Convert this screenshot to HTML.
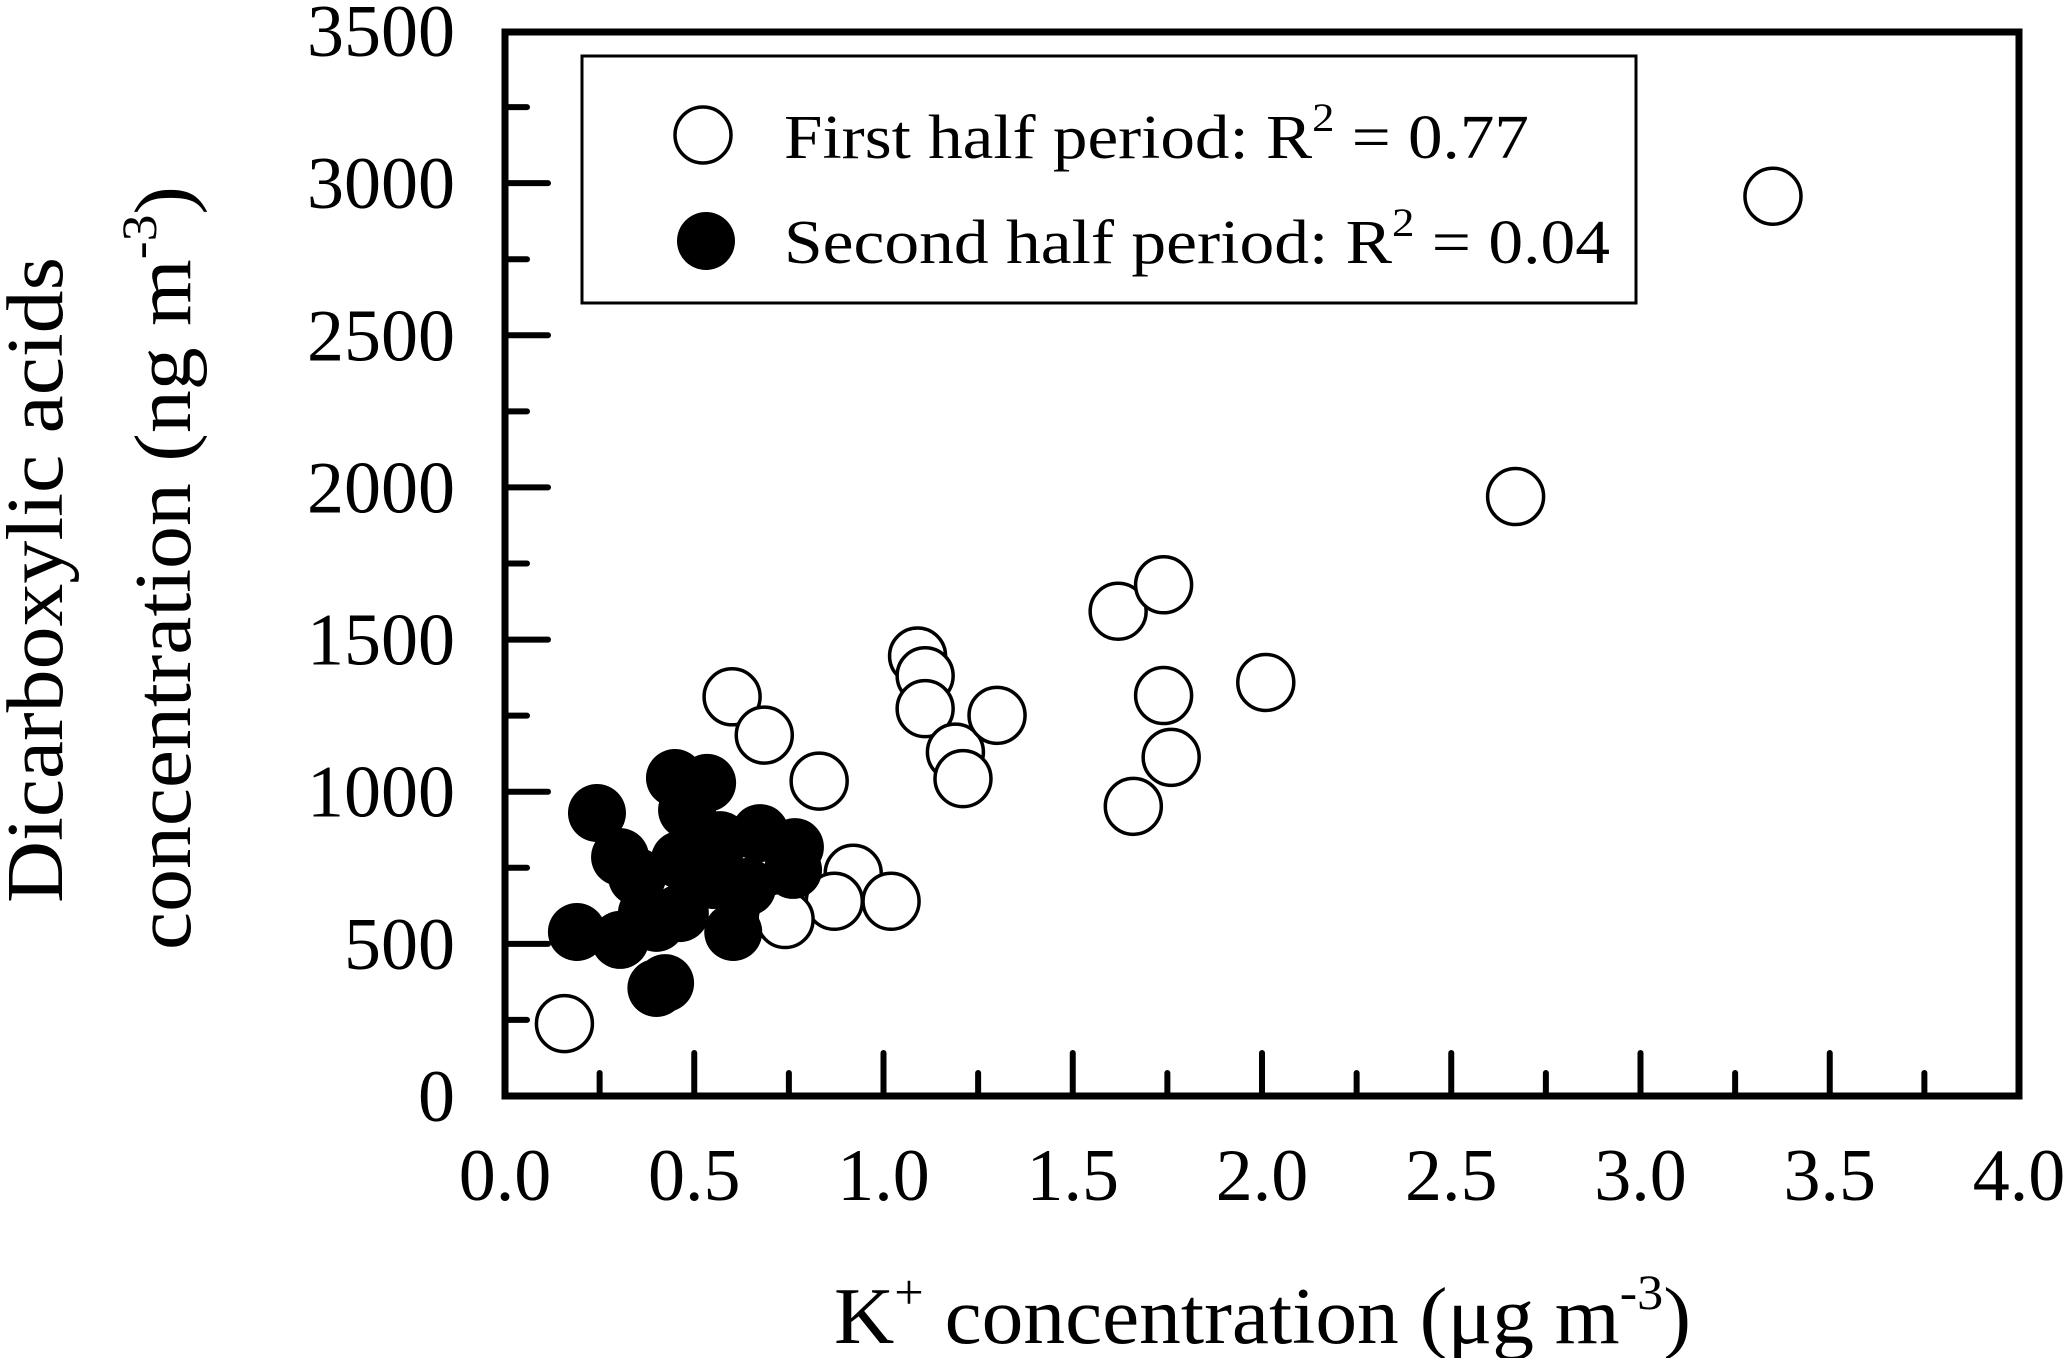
<!DOCTYPE html>
<html><head><meta charset="utf-8"><style>
html,body{margin:0;padding:0;background:#fff;}
svg{display:block;font-family:"Liberation Serif",serif;}
</style></head><body>
<svg id="chart" width="2067" height="1358" viewBox="0 0 2067 1358" xmlns="http://www.w3.org/2000/svg">
<g id="marks"></g>
<rect x="505" y="32" width="1514" height="1064" fill="none" stroke="#000" stroke-width="7"/>
<g id="ticks"></g>
<g>
<rect x="582" y="56" width="1054" height="247" fill="#fff" stroke="#000" stroke-width="3"/>
<circle cx="703" cy="135" r="28" fill="#fff" stroke="#000" stroke-width="3.5"/>
<text x="784" y="158" font-size="62" textLength="745" lengthAdjust="spacingAndGlyphs">First half period: R<tspan font-size="40" dy="-27">2</tspan><tspan dy="27"> = 0.77</tspan></text>
<circle cx="706" cy="241" r="29" fill="#000"/>
<text x="784" y="263" font-size="62" textLength="826" lengthAdjust="spacingAndGlyphs">Second half period: R<tspan font-size="40" dy="-27">2</tspan><tspan dy="27"> = 0.04</tspan></text>
</g>
<text x="834" y="1343" font-size="80" textLength="857" lengthAdjust="spacingAndGlyphs">K<tspan font-size="50" dy="-34">+</tspan><tspan dy="34"> concentration (μg m</tspan><tspan font-size="50" dy="-34">-3</tspan><tspan dy="34">)</tspan></text>
<text transform="translate(62,903) rotate(-90)" font-size="80" textLength="646" lengthAdjust="spacingAndGlyphs">Dicarboxylic acids</text>
<text transform="translate(190,950) rotate(-90)" font-size="80" textLength="764" lengthAdjust="spacingAndGlyphs">concentration (ng m<tspan font-size="50" dy="-34">-3</tspan><tspan dy="34">)</tspan></text>
</svg>
<script>
const xTicks = [0, 0.5, 1.0, 1.5, 2.0, 2.5, 3.0, 3.5, 4.0];
const xTickLabels = ["0.0","0.5","1.0","1.5","2.0","2.5","3.0","3.5","4.0"];
const yTicks = [0, 500, 1000, 1500, 2000, 2500, 3000, 3500];
const yTickLabels = ["0","500","1000","1500","2000","2500","3000","3500"];
const firstX = [0.157,0.60,0.685,0.83,0.92,0.87,1.02,0.74,1.09,1.11,1.11,1.19,1.21,1.30,1.62,1.74,1.74,1.76,1.66,2.01,2.67,3.35];
const firstY = [238,1312,1186,1035,732,640,640,580,1446,1381,1273,1130,1043,1251,1593,1680,1316,1113,952,1359,1970,2957];
const secondX = [0.243,0.449,0.534,0.481,0.304,0.674,0.766,0.761,0.190,0.304,0.423,0.40,0.603,0.462,0.55,0.64,0.375,0.462,0.349,0.568,0.40];
const secondY = [930,1045,1029,940,785,864,818,743,539,513,371,355,539,776,710,687,601,601,720,841,569];

const NS = "http://www.w3.org/2000/svg";
const X0 = 505, X1 = 2019, Y0 = 1096, Y1 = 31;
function sx(v){ return X0 + (v - 0) / 4 * (X1 - X0); }
function sy(v){ return Y0 - v / 3500 * (Y0 - Y1); }

const ticks = document.getElementById('ticks');
function line(x1,y1,x2,y2,name){
  const l = document.createElementNS(NS,'line');
  l.setAttribute('x1',x1); l.setAttribute('y1',y1); l.setAttribute('x2',x2); l.setAttribute('y2',y2);
  l.setAttribute('stroke','#000'); l.setAttribute('stroke-width','6'); l.setAttribute('stroke-linecap','round');
  
  
  ticks.appendChild(l);
}
function label(x,y,txt,anchor,name){
  const t = document.createElementNS(NS,'text');
  t.setAttribute('x',x); t.setAttribute('y',y); t.setAttribute('font-size','74');
  t.setAttribute('text-anchor',anchor);
  t.textContent = txt;
  
  
  ticks.appendChild(t);
}
xTicks.forEach((v,i)=>{
  const x = sx(v);
  if (i>0 && i<xTicks.length-1) line(x,Y0,x,Y0-43,'x-major-tick');
  if (i<xTicks.length-1){ const m = sx(v+0.25); line(m,Y0,m,Y0-23,'x-minor-tick'); }
  label(x,1200,xTickLabels[i],'middle','x-tick-label');
});
yTicks.forEach((v,i)=>{
  const y = sy(v);
  if (i>0 && i<yTicks.length-1) line(X0,y,X0+43,y,'y-major-tick');
  if (i<yTicks.length-1){ const m = sy(v+250); line(X0,m,X0+22,m,'y-minor-tick'); }
  label(455,y+25,yTickLabels[i],'end','y-tick-label');
});

const marks = document.getElementById('marks');
firstX.forEach((v,i)=>{
  const c = document.createElementNS(NS,'circle');
  c.setAttribute('cx',sx(v)); c.setAttribute('cy',sy(firstY[i])); c.setAttribute('r','28');
  c.setAttribute('fill','#fff'); c.setAttribute('stroke','#000'); c.setAttribute('stroke-width','3.5');
  
  
  marks.appendChild(c);
});
secondX.forEach((v,i)=>{
  const c = document.createElementNS(NS,'circle');
  c.setAttribute('cx',sx(v)); c.setAttribute('cy',sy(secondY[i])); c.setAttribute('r','29');
  c.setAttribute('fill','#000');
  
  
  marks.appendChild(c);
});
</script>
</body></html>
